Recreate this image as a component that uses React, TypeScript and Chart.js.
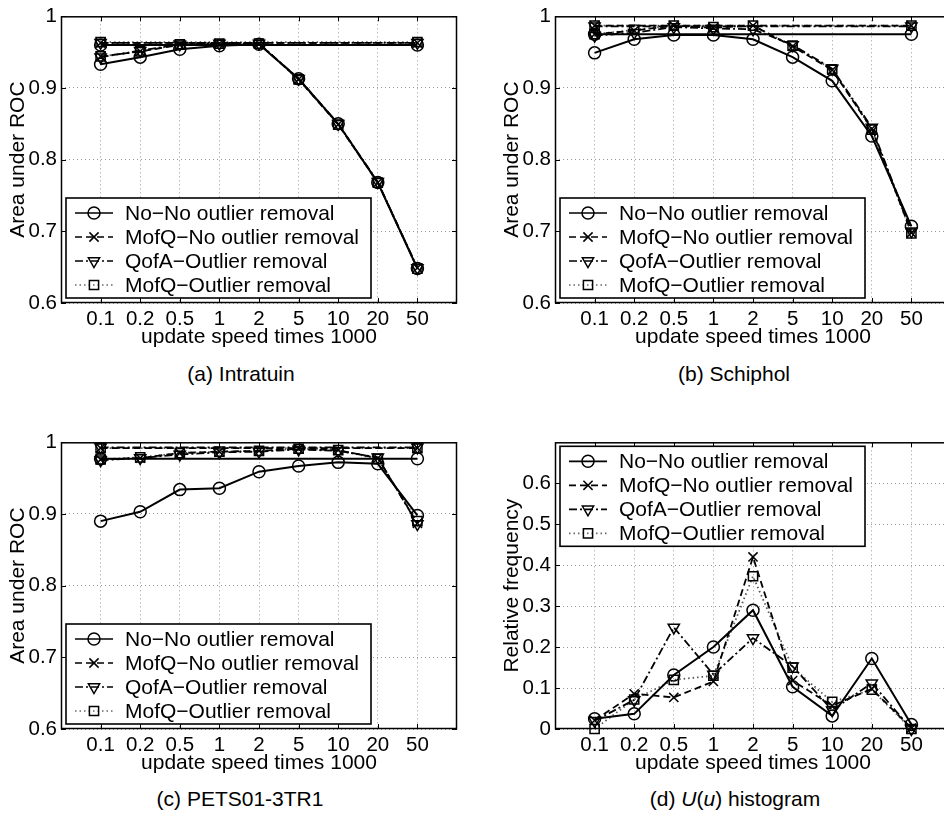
import React, { useEffect, useRef } from 'react';
import { Chart, registerables } from 'chart.js';

Chart.register(...registerables);

// ---------- data ----------
const categories = ['0.1', '0.2', '0.5', '1', '2', '5', '10', '20', '50'];
const seriesNames = [
  'No\u2212No outlier removal',
  'MofQ\u2212No outlier removal',
  'QofA\u2212Outlier removal',
  'MofQ\u2212Outlier removal',
];
const aucTicks = [0.6, 0.7, 0.8, 0.9, 1];
const freqTicks = [0, 0.1, 0.2, 0.3, 0.4, 0.5, 0.6];

// (a) Intratuin
const intratuinNoNo = [0.933, 0.943, 0.954, 0.959, 0.961, 0.913, 0.85, 0.768, 0.648];
const intratuinMofQNo = [0.944, 0.951, 0.96, 0.962, 0.962, 0.912, 0.849, 0.768, 0.649];
const intratuinQofA = [0.943, 0.952, 0.961, 0.962, 0.962, 0.913, 0.85, 0.769, 0.649];
const intratuinMofQOut = [0.944, 0.951, 0.961, 0.962, 0.962, 0.912, 0.849, 0.768, 0.648];
const intratuinFlat = [0.96, 0.963, 0.963, 0.964];

// (b) Schiphol
const schipholNoNo = [0.949, 0.968, 0.974, 0.974, 0.968, 0.943, 0.91, 0.833, 0.707];
const schipholMofQNo = [0.975, 0.98, 0.987, 0.984, 0.987, 0.958, 0.925, 0.843, 0.698];
const schipholQofA = [0.973, 0.977, 0.985, 0.983, 0.982, 0.96, 0.927, 0.845, 0.7];
const schipholMofQOut = [0.975, 0.981, 0.987, 0.985, 0.987, 0.959, 0.926, 0.842, 0.697];
const schipholFlat = [0.975, 0.987, 0.986, 0.987];

// (c) PETS01-3TR1
const petsNoNo = [0.89, 0.903, 0.934, 0.936, 0.959, 0.967, 0.972, 0.97, 0.898];
const petsMofQNo = [0.976, 0.978, 0.985, 0.987, 0.988, 0.991, 0.989, 0.978, 0.887];
const petsQofA = [0.975, 0.978, 0.983, 0.986, 0.987, 0.99, 0.988, 0.979, 0.886];
const petsMofQOut = [0.976, 0.979, 0.985, 0.987, 0.988, 0.991, 0.989, 0.977, 0.89];
const petsFlat = [0.977, 0.992, 0.993, 0.992];

// (d) U(u) histogram
const histNoNo = [0.025, 0.037, 0.132, 0.2, 0.29, 0.103, 0.032, 0.172, 0.011];
const histMofQNo = [0.021, 0.086, 0.077, 0.116, 0.42, 0.118, 0.057, 0.098, 0.002];
const histQofA = [0.02, 0.071, 0.248, 0.133, 0.222, 0.153, 0.046, 0.112, 0.0];
const histMofQOut = [0.0, 0.072, 0.12, 0.13, 0.373, 0.15, 0.066, 0.096, 0.0];

// ---------- styles ----------
const FONT = '"Liberation Sans", Arial, Helvetica, sans-serif';
const FS = 21;
const TICK_FS = 20.5;

const styles = [
  { dash: [] as number[], point: 'circle', radius: 6, rotation: 0 },
  { dash: [7, 4], point: 'crossRot', radius: 6.5, rotation: 0 },
  { dash: [8, 3, 2, 3], point: 'triangle', radius: 6.5, rotation: 180 },
  { dash: [1.5, 3], point: 'rect', radius: 6.5, rotation: 0 },
];

function drawMarker(ctx: CanvasRenderingContext2D, kind: number, x: number, y: number) {
  const st = styles[kind];
  const r = st.radius;
  ctx.beginPath();
  if (kind === 0) {
    ctx.arc(x, y, r, 0, Math.PI * 2);
  } else if (kind === 1) {
    const d = r * Math.SQRT1_2;
    ctx.moveTo(x - d, y - d);
    ctx.lineTo(x + d, y + d);
    ctx.moveTo(x + d, y - d);
    ctx.lineTo(x - d, y + d);
  } else if (kind === 2) {
    const s = Math.sin(Math.PI / 3) * r;
    ctx.moveTo(x, y + r);
    ctx.lineTo(x - s, y - r / 2);
    ctx.lineTo(x + s, y - r / 2);
    ctx.closePath();
  } else {
    const s = r * Math.SQRT1_2;
    ctx.rect(x - s, y - s, 2 * s, 2 * s);
  }
  ctx.stroke();
}

function makeDecor(legendAt: 'top' | 'bottom') {
  return {
    id: 'decor',
    afterDraw(chart: any) {
      const ctx: CanvasRenderingContext2D = chart.ctx;
      const a = chart.chartArea;
      const xs = chart.scales.x;
      const ys = chart.scales.y;
      ctx.save();
      ctx.setLineDash([]);
      ctx.strokeStyle = '#000';
      ctx.lineWidth = 1;
      ctx.beginPath();
      xs.ticks.forEach((t: any) => {
        const px = Math.round(xs.getPixelForValue(t.value)) + 0.5;
        ctx.moveTo(px, a.bottom);
        ctx.lineTo(px, a.bottom - 5);
        ctx.moveTo(px, a.top);
        ctx.lineTo(px, a.top + 5);
      });
      ys.ticks.forEach((t: any) => {
        const py = Math.round(ys.getPixelForValue(t.value)) + 0.5;
        ctx.moveTo(a.left, py);
        ctx.lineTo(a.left + 5, py);
        ctx.moveTo(a.right, py);
        ctx.lineTo(a.right - 5, py);
      });
      ctx.stroke();
      ctx.lineWidth = 1.5;
      ctx.strokeRect(a.left + 0.5, a.top + 0.5, a.right - a.left - 1, a.bottom - a.top - 1);

      // legend
      const bw = 305;
      const bh = 100;
      const bx = a.left + 5;
      const by = legendAt === 'bottom' ? a.bottom - 5 - bh : a.top + 4;
      ctx.fillStyle = '#fff';
      ctx.fillRect(bx, by, bw, bh);
      ctx.lineWidth = 1.6;
      ctx.strokeRect(bx, by, bw, bh);
      ctx.font = `${FS}px ${FONT}`;
      ctx.textBaseline = 'middle';
      ctx.textAlign = 'left';
      for (let i = 0; i < 4; i++) {
        const cy = by + 15 + 24 * i;
        ctx.lineWidth = 1.7;
        ctx.setLineDash(styles[i].dash);
        ctx.strokeStyle = i === 3 ? '#666' : '#000';
        ctx.beginPath();
        ctx.moveTo(bx + 9, cy);
        ctx.lineTo(bx + 47, cy);
        ctx.stroke();
        ctx.setLineDash([]);
        ctx.strokeStyle = '#000';
        ctx.lineWidth = 1.5;
        drawMarker(ctx, i, bx + 28, cy);
        ctx.fillStyle = '#000';
        ctx.fillText(seriesNames[i], bx + 59, cy + 1);
      }
      ctx.restore();
    },
  };
}

function buildDatasets(series: number[][], flats?: number[]) {
  const ds: any[] = [];
  series.forEach((vals, i) => {
    const st = styles[i];
    const base = {
      borderColor: i === 3 ? '#555' : '#000',
      borderWidth: i === 0 ? 2 : 1.8,
      borderDash: st.dash,
      pointStyle: st.point,
      pointRadius: st.radius,
      pointRotation: st.rotation,
      pointBorderWidth: 1.5,
      pointBorderColor: '#000',
      pointBackgroundColor: 'rgba(0,0,0,0)',
      fill: false,
      tension: 0,
      clip: false,
    };
    if (flats) {
      ds.push({
        ...base,
        label: seriesNames[i] + ' (flat)',
        data: [
          { x: 1, y: flats[i] },
          { x: categories.length, y: flats[i] },
        ],
      });
    }
    ds.push({
      ...base,
      label: seriesNames[i],
      data: vals.map((v, j) => ({ x: j + 1, y: v })),
    });
  });
  return ds;
}

const fmt = (v: number) => (v === 0 ? '0' : String(Number(v.toFixed(1))));

type PanelProps = {
  left: number;
  top: number;
  series: number[][];
  flats?: number[];
  yMin: number;
  yMax: number;
  yTicks: number[];
  yTitle: string;
  legendAt: 'top' | 'bottom';
};

function Panel(p: PanelProps) {
  const ref = useRef<HTMLCanvasElement | null>(null);
  useEffect(() => {
    if (!ref.current) return;
    const font = { family: FONT, size: FS };
    const tickFont = { family: FONT, size: TICK_FS };
    const gridStyle = { color: '#9a9a9a', lineWidth: 1, drawTicks: false };
    const chart = new Chart(ref.current, {
      type: 'line',
      data: { datasets: buildDatasets(p.series, p.flats) },
      plugins: [makeDecor(p.legendAt)],
      options: {
        animation: false,
        responsive: false,
        maintainAspectRatio: false,
        devicePixelRatio: 1,
        layout: { padding: { top: 15, right: 13, left: 0, bottom: 0 } },
        plugins: { legend: { display: false }, tooltip: { enabled: false } },
        scales: {
          x: {
            type: 'linear',
            min: 0,
            max: categories.length + 1,
            afterBuildTicks: (s: any) => {
              s.ticks = categories.map((_, i) => ({ value: i + 1 }));
            },
            afterFit: (s: any) => {
              s.height = 57;
            },
            ticks: {
              callback: (v: any) => categories[Math.round(Number(v)) - 1] ?? '',
              font: tickFont,
              color: '#000',
              padding: 4,
              autoSkip: false,
              maxRotation: 0,
            },
            grid: gridStyle,
            border: { display: false, dash: [1, 3] },
            title: {
              display: true,
              text: 'update speed times 1000',
              font,
              color: '#000',
              padding: { top: 0, bottom: 10 },
            },
          },
          y: {
            type: 'linear',
            min: p.yMin,
            max: p.yMax,
            afterBuildTicks: (s: any) => {
              s.ticks = p.yTicks.map((v) => ({ value: v }));
            },
            afterFit: (s: any) => {
              s.width = 61;
            },
            ticks: {
              callback: (v: any) => fmt(Number(v)),
              font: tickFont,
              color: '#000',
              padding: 4,
            },
            grid: gridStyle,
            border: { display: false, dash: [1, 3] },
            title: {
              display: true,
              text: p.yTitle,
              font,
              color: '#000',
              padding: { top: 6, bottom: 0 },
            },
          },
        },
      } as any,
    });
    return () => chart.destroy();
  }, []);
  return (
    <canvas
      ref={ref}
      width={470}
      height={360}
      style={{ position: 'absolute', left: p.left, top: p.top, width: 470, height: 360 }}
    />
  );
}

const capStyle = (cx: number, cy: number): React.CSSProperties => ({
  position: 'absolute',
  left: cx,
  top: cy,
  transform: 'translate(-50%, -50%)',
  fontFamily: FONT,
  fontSize: FS,
  lineHeight: 1,
  whiteSpace: 'nowrap',
  color: '#000',
});

export default function App() {
  return (
    <div
      style={{
        position: 'absolute',
        left: 0,
        top: 0,
        width: 944,
        height: 813,
        overflow: 'hidden',
        background: '#fff',
      }}
    >
      <Panel
        left={0}
        top={0}
        series={[intratuinNoNo, intratuinMofQNo, intratuinQofA, intratuinMofQOut]}
        flats={intratuinFlat}
        yMin={0.6}
        yMax={1}
        yTicks={aucTicks}
        yTitle="Area under ROC"
        legendAt="bottom"
      />
      <Panel
        left={494}
        top={0}
        series={[schipholNoNo, schipholMofQNo, schipholQofA, schipholMofQOut]}
        flats={schipholFlat}
        yMin={0.6}
        yMax={1}
        yTicks={aucTicks}
        yTitle="Area under ROC"
        legendAt="bottom"
      />
      <Panel
        left={0}
        top={426}
        series={[petsNoNo, petsMofQNo, petsQofA, petsMofQOut]}
        flats={petsFlat}
        yMin={0.6}
        yMax={1}
        yTicks={aucTicks}
        yTitle="Area under ROC"
        legendAt="bottom"
      />
      <Panel
        left={494}
        top={426}
        series={[histNoNo, histMofQNo, histQofA, histMofQOut]}
        yMin={0}
        yMax={0.7}
        yTicks={freqTicks}
        yTitle="Relative frequency"
        legendAt="top"
      />
      <div style={capStyle(241, 373)}>(a) Intratuin</div>
      <div style={capStyle(734, 373)}>(b) Schiphol</div>
      <div style={capStyle(240, 798)}>(c) PETS01-3TR1</div>
      <div style={capStyle(735, 798)}>
        (d) <i>U</i>(<i>u</i>) histogram
      </div>
    </div>
  );
}
